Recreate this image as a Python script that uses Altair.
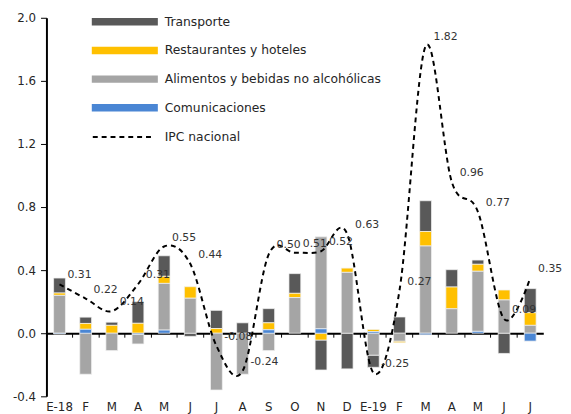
import altair as alt
import pandas as pd

meses = ["E-18", "F", "M", "A", "M", "J", "J", "A", "S", "O", "N", "D",
         "E-19", "F", "M", "A", "M", "J", "J"]

transporte = [0.095, 0.04, 0.02, 0.137, 0.13, -0.02, 0.115, 0.066, 0.09, 0.125,
              -0.19, -0.226, -0.077, 0.103, 0.195, 0.11, 0.027, -0.128, 0.153]
restaurantes = [0.015, 0.037, 0.05, 0.063, 0.045, 0.073, 0.03, 0.0, 0.044, 0.027,
                -0.043, 0.027, 0.014, -0.01, 0.092, 0.138, 0.044, 0.063, 0.08]
alimentos = [0.24, -0.26, -0.11, -0.06, 0.296, 0.222, -0.36, -0.26, -0.11, 0.226,
             0.583, 0.386, -0.139, -0.05, 0.553, 0.155, 0.381, 0.211, 0.05]
comunicaciones = [-0.005, 0.025, 0.0, -0.008, 0.02, 0.0, 0.0, 0.0, 0.022, 0.0,
                  0.028, 0.0, 0.01, 0.0, -0.01, 0.0, 0.012, 0.0, -0.05]
ipc = [0.31, 0.22, 0.14, 0.31, 0.55, 0.44, -0.08, -0.24, 0.50, 0.51,
       0.52, 0.63, -0.25, 0.27, 1.82, 0.96, 0.77, 0.09, 0.35]

series = ["Transporte", "Restaurantes y hoteles",
          "Alimentos y bebidas no alcohólicas", "Comunicaciones"]
colores = ["#595959", "#FFC000", "#A5A5A5", "#4A86D4"]
orden_pila = [3, 2, 1, 0]

rows = []
for s, o, vals in zip(series, orden_pila,
                      [transporte, restaurantes, alimentos, comunicaciones]):
    for i, v in enumerate(vals):
        if v != 0:
            rows.append({"idx": i, "serie": s, "valor": v, "orden": o})
df_bars = pd.DataFrame(rows)

df_ipc = pd.DataFrame({
    "idx": list(range(len(meses))),
    "ipc": ipc,
    "serie": ["IPC nacional"] * len(meses),
    "etiqueta": [f"{v:.2f}" for v in ipc],
})

label_expr = "[" + ",".join(f"'{m}'" for m in meses) + "][datum.value]"
txt = "#262626"

y_scale = alt.Scale(domain=[-0.4, 2.0], nice=False, zero=False)
y_axis = alt.Axis(values=[-0.4, 0, 0.4, 0.8, 1.2, 1.6, 2.0],
                  labelExpr="replace(format(datum.value, '.1f'), '\u2212', '-')",
                  title=None, grid=False, domainColor="black", domainWidth=2,
                  tickColor="black", tickSize=6, tickWidth=1, labelPadding=5,
                  labelFontSize=12, labelColor=txt)

x_scale = alt.Scale(paddingInner=0, paddingOuter=0)

bars = alt.Chart(df_bars).mark_bar(size=12, stroke="#f2f2f2", strokeWidth=0.75).encode(
    x=alt.X("idx:O", scale=x_scale,
            axis=alt.Axis(orient="bottom", offset=-64, labels=False, title=None,
                          domainColor="black", domainWidth=2, tickColor="black",
                          tickSize=4, tickWidth=1, bandPosition=0)),
    y=alt.Y("valor:Q", stack="zero", scale=y_scale, axis=y_axis),
    color=alt.Color("serie:N", scale=alt.Scale(domain=series, range=colores),
                    legend=alt.Legend(title=None, orient="none", legendX=71, legendY=-4.5,
                                      symbolType="M-4,-0.45H4V0.45H-4Z", symbolSize=280.6,
                                      symbolStrokeWidth=0, labelOffset=32, rowPadding=14.1,
                                      padding=0, labelFontSize=12.5, labelColor=txt,
                                      labelLimit=400)),
    order=alt.Order("orden:Q", sort="ascending"),
)

line = alt.Chart(df_ipc).mark_line(color="black", strokeWidth=2, interpolate="cardinal").encode(
    x=alt.X("idx:O", axis=alt.Axis(orient="bottom", domain=False, ticks=False, tickSize=0,
                                   labelExpr=label_expr, title=None, labelFontSize=12,
                                   labelPadding=5, labelAngle=0, labelColor=txt)),
    y=alt.Y("ipc:Q", scale=y_scale, axis=y_axis),
    strokeDash=alt.StrokeDash("serie:N",
                              scale=alt.Scale(domain=["IPC nacional"], range=[[5, 4]]),
                              legend=alt.Legend(title=None, orient="none", legendX=67.5,
                                                legendY=111.5, symbolType="M-3.58,0H3.58",
                                                symbolSize=280.6, symbolStrokeWidth=2,
                                                symbolStrokeColor="black",
                                                labelOffset=33.5, padding=0,
                                                labelFontSize=12.5, labelColor=txt)),
)

text = alt.Chart(df_ipc).mark_text(align="left", baseline="middle", dx=8, dy=-9,
                                   fontSize=11, color="#333333").encode(
    x=alt.X("idx:O", axis=None),
    y=alt.Y("ipc:Q", scale=y_scale, axis=y_axis),
    text="etiqueta:N",
)

chart = alt.layer(bars, line, text).resolve_axis(x="independent").properties(
    width=504, height=384,
    autosize=alt.AutoSizeParams(type="none"),
    padding={"left": 39, "top": 7, "right": 20, "bottom": 15},
).configure(font="DejaVu Sans").configure_view(stroke=None)

chart.save("out.html", embed_options={"renderer": "svg", "actions": False})
